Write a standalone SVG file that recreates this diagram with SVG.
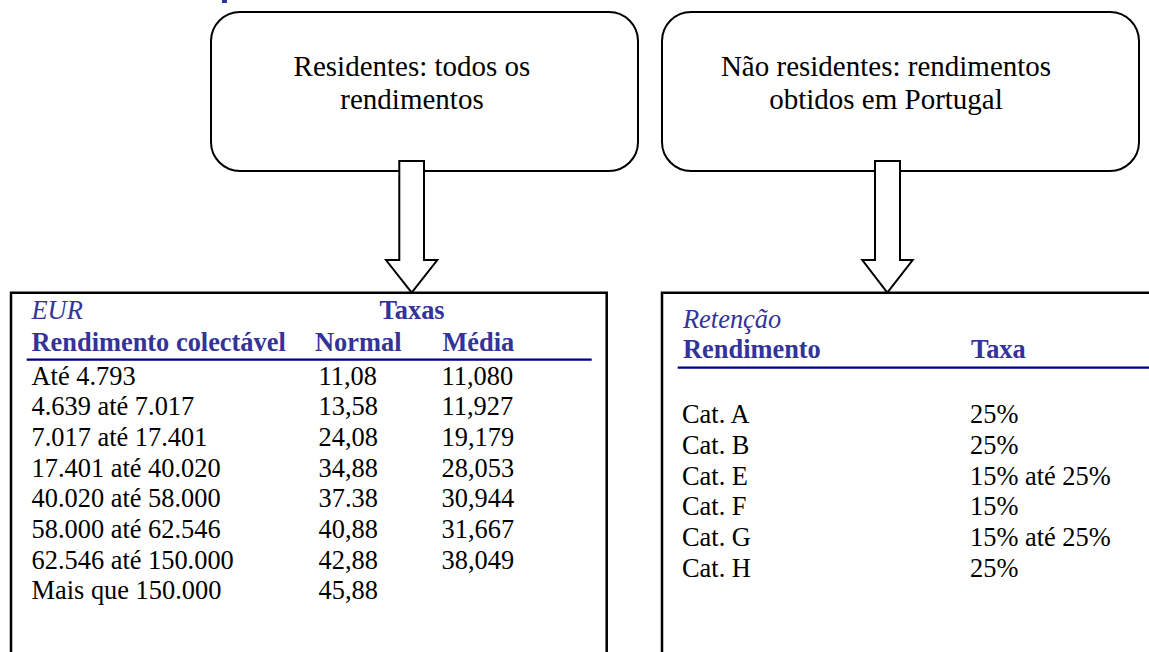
<svg xmlns="http://www.w3.org/2000/svg" width="1149" height="652" viewBox="0 0 1149 652">
  <style>
    .box { fill: #ffffff; stroke: #000000; stroke-width: 2; }
    .tbl { fill: none; stroke: #000000; stroke-width: 2.5; }
    .arrow { fill: #ffffff; stroke: #000000; stroke-width: 2; stroke-linejoin: miter; }
    .rule { stroke: #000080; stroke-width: 2.2; }
    .big { font-family: "Liberation Serif", "Times New Roman", serif; font-size: 29px; fill: #000000; text-anchor: middle; }
    .t { font-family: "Liberation Serif", "Times New Roman", serif; font-size: 26.4px; fill: #000000; }
    .h { font-family: "Liberation Serif", "Times New Roman", serif; font-size: 26.4px; font-weight: bold; fill: #333399; }
    .i { font-family: "Liberation Serif", "Times New Roman", serif; font-size: 26.4px; font-style: italic; fill: #333399; }
  </style>
  <rect width="1149" height="652" fill="#ffffff"/>
  <rect x="222" y="0" width="5" height="3" fill="#333399"/>

  <g id="node-residentes">
    <rect class="box" x="211" y="12" width="427" height="159" rx="29" ry="29"/>
    <text class="big" x="412" y="76">Residentes: todos os</text>
    <text class="big" x="412" y="109">rendimentos</text>
  </g>

  <g id="node-nao-residentes">
    <rect class="box" x="662" y="12" width="477" height="159" rx="29" ry="29"/>
    <text class="big" x="886" y="76">Não residentes: rendimentos</text>
    <text class="big" x="886" y="109">obtidos em Portugal</text>
  </g>

  <g id="node-tabela-residentes">
    <path class="tbl" d="M11,660 L11,292.7 L606.7,292.7 L606.7,660"/>
    <text class="i" x="31.5" y="319">EUR</text>
    <text class="h" x="379.6" y="319">Taxas</text>
    <text class="h" x="31.5" y="351">Rendimento colectável</text>
    <text class="h" x="315" y="351">Normal</text>
    <text class="h" x="442.4" y="351">Média</text>
    <line class="rule" x1="26.7" y1="359.7" x2="591.7" y2="359.7"/>
    <g class="t">
      <text x="31.5" y="384.5">Até 4.793</text>
      <text x="31.5" y="415.2">4.639 até 7.017</text>
      <text x="31.5" y="445.9">7.017 até 17.401</text>
      <text x="31.5" y="476.6">17.401 até 40.020</text>
      <text x="31.5" y="507.3">40.020 até 58.000</text>
      <text x="31.5" y="538">58.000 até 62.546</text>
      <text x="31.5" y="568.7">62.546 até 150.000</text>
      <text x="31.5" y="599.4">Mais que 150.000</text>
      <text x="318.5" y="384.5">11,08</text>
      <text x="318.5" y="415.2">13,58</text>
      <text x="318.5" y="445.9">24,08</text>
      <text x="318.5" y="476.6">34,88</text>
      <text x="318.5" y="507.3">37.38</text>
      <text x="318.5" y="538">40,88</text>
      <text x="318.5" y="568.7">42,88</text>
      <text x="318.5" y="599.4">45,88</text>
      <text x="441.5" y="384.5">11,080</text>
      <text x="441.5" y="415.2">11,927</text>
      <text x="441.5" y="445.9">19,179</text>
      <text x="441.5" y="476.6">28,053</text>
      <text x="441.5" y="507.3">30,944</text>
      <text x="441.5" y="538">31,667</text>
      <text x="441.5" y="568.7">38,049</text>
    </g>
  </g>

  <g id="node-tabela-nao-residentes">
    <path class="tbl" d="M662,660 L662,292.7 L1160,292.7"/>
    <text class="i" x="683" y="327.7">Retenção</text>
    <text class="h" x="683" y="358.3">Rendimento</text>
    <text class="h" x="971" y="358.3">Taxa</text>
    <line class="rule" x1="677.7" y1="367.7" x2="1149" y2="367.7"/>
    <g class="t">
      <text x="682" y="423.3">Cat. A</text>
      <text x="682" y="454">Cat. B</text>
      <text x="682" y="484.7">Cat. E</text>
      <text x="682" y="515.4">Cat. F</text>
      <text x="682" y="546.1">Cat. G</text>
      <text x="682" y="576.8">Cat. H</text>
      <text x="970" y="423.3">25%</text>
      <text x="970" y="454">25%</text>
      <text x="970" y="484.7">15% até 25%</text>
      <text x="970" y="515.4">15%</text>
      <text x="970" y="546.1">15% até 25%</text>
      <text x="970" y="576.8">25%</text>
    </g>
  </g>

  <g id="connectors">
    <path class="arrow" d="M399.3,161 L424,161 L424,260 L437.3,260 L411.7,292.7 L386,260 L399.3,260 Z"/>
    <path class="arrow" d="M875,161 L900,161 L900,260 L912.7,260 L887.3,292.7 L862.3,260 L875,260 Z"/>
  </g>
</svg>
